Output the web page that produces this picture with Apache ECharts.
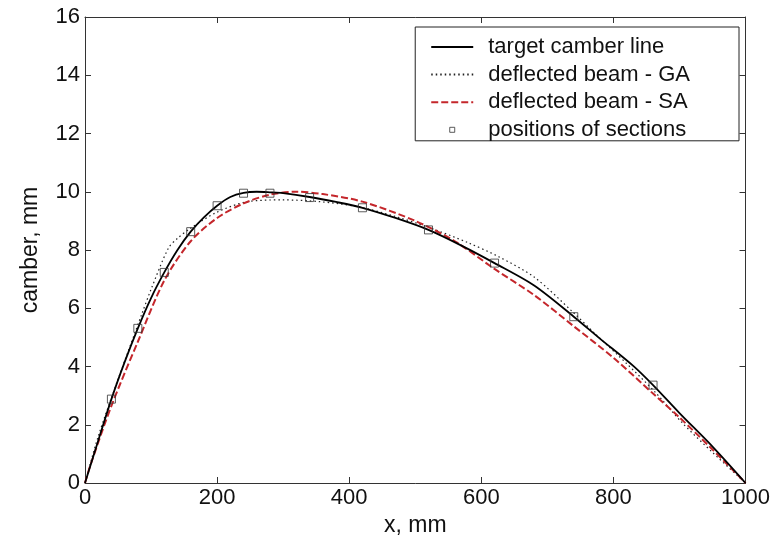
<!DOCTYPE html>
<html><head><meta charset="utf-8">
<script src="https://cdn.jsdelivr.net/npm/echarts@6/dist/echarts.min.js"></script>
<style>html,body{margin:0;padding:0;background:#fff}#c{width:773px;height:547px}</style>
</head><body><div id="c"></div>
<script>
var xTarget = [0, 20, 40, 60, 80, 100, 120, 140, 160, 180, 200, 220, 240, 260, 280, 300, 340, 380, 420, 470, 520, 570, 620, 680, 740, 780, 830, 860, 900, 950, 1000];
var yTarget = [0, 1.45, 2.88, 4.15, 5.31, 6.35, 7.23, 8.0, 8.63, 9.12, 9.52, 9.82, 9.96, 10.0, 9.98, 9.95, 9.82, 9.65, 9.45, 9.1, 8.69, 8.15, 7.55, 6.78, 5.71, 4.95, 4.02, 3.36, 2.4, 1.25, 0];

var xGA = [0, 20, 50, 86, 100, 126, 140, 160, 200, 244, 300, 355, 415, 470, 520, 580, 627, 680, 739, 773, 820, 864, 904, 950, 1000];
var yGA = [0, 1.6, 3.56, 5.8, 6.65, 8.05, 8.4, 8.75, 9.3, 9.65, 9.72, 9.66, 9.48, 9.15, 8.78, 8.25, 7.76, 7.07, 5.86, 5.11, 4.1, 3.1, 2.07, 1.05, 0];

var xSA = [0, 8, 40, 80, 120, 160, 200, 240, 280, 320, 360, 420, 500, 560, 620, 680, 740, 800, 860, 900, 950, 1000];
var ySA = [0, 0.6, 2.65, 4.85, 6.95, 8.3, 9.1, 9.6, 9.9, 10.0, 9.92, 9.66, 9.0, 8.3, 7.35, 6.45, 5.38, 4.3, 3.07, 2.25, 1.15, 0];

var xSections = [40, 80, 120, 160, 200, 240, 280, 340, 420, 520, 620, 740, 860];
var ySections = [2.88, 5.31, 7.23, 8.63, 9.52, 9.95, 9.95, 9.8, 9.45, 8.69, 7.55, 5.71, 3.36];

var xTicks = [0, 200, 400, 600, 800, 1000];
var yTicks = [0, 2, 4, 6, 8, 10, 12, 14, 16];

function pairs(xs, ys) { return xs.map(function (x, i) { return [x, ys[i]]; }); }

var FONT = '"Liberation Sans", Arial, sans-serif';
var chart = echarts.init(document.getElementById('c'));
var axisCommon = {
  axisLine: { show: true, onZero: false, lineStyle: { color: '#333', width: 1 } },
  axisTick: { show: true, inside: true, length: 6, lineStyle: { color: '#333' } },
  splitLine: { show: false }
};
var hideSym = { opacity: 0 };
chart.setOption({
  animation: false,
  backgroundColor: '#fff',
  grid: { left: 85, right: 26, top: 17, bottom: 64, show: false },
  legend: {
    right: 34, top: 27, orient: 'vertical',
    backgroundColor: '#fff', borderColor: '#222', borderWidth: 1,
    padding: [9, 49, 0, 15], itemGap: 5.6, itemWidth: 42, itemHeight: 14,
    textStyle: { fontFamily: FONT, fontSize: 22, lineHeight: 18, color: '#111', padding: [0, 0, 0, 10] },
    data: [
      { name: 'target camber line', itemStyle: hideSym },
      { name: 'deflected beam - GA', itemStyle: hideSym },
      { name: 'deflected beam - SA', itemStyle: hideSym },
      { name: 'positions of sections', icon: 'path://M0,0 M42,0 M42,14 M0,14 M18.5,4.5h5v5h-5z',
        itemStyle: { color: 'rgba(255,255,255,0)', borderColor: '#333', borderWidth: 1 } }
    ]
  },
  xAxis: [
    Object.assign({
      type: 'value', min: 0, max: 1000, interval: 200, position: 'bottom',
      name: 'x, mm', nameLocation: 'middle', nameGap: 31,
      nameTextStyle: { fontFamily: FONT, fontSize: 23, color: '#111' },
      axisLabel: { fontFamily: FONT, fontSize: 22, color: '#111', margin: 4,
        formatter: function (v) { return xTicks.indexOf(v) >= 0 ? String(v) : ''; } }
    }, axisCommon),
    Object.assign({
      type: 'value', min: 0, max: 1000, interval: 200, position: 'top',
      axisLabel: { show: false }
    }, axisCommon)
  ],
  yAxis: [
    Object.assign({
      type: 'value', min: 0, max: 16, interval: 2, position: 'left',
      name: 'camber, mm', nameLocation: 'middle', nameGap: 43,
      nameTextStyle: { fontFamily: FONT, fontSize: 23, color: '#111' },
      axisLabel: { fontFamily: FONT, fontSize: 22, color: '#111', margin: 5,
        formatter: function (v) { return yTicks.indexOf(v) >= 0 ? String(v) : ''; } }
    }, axisCommon),
    Object.assign({
      type: 'value', min: 0, max: 16, interval: 2, position: 'right',
      axisLabel: { show: false }
    }, axisCommon)
  ],
  series: [
    {
      name: 'target camber line', type: 'line', smooth: 0.3, symbol: 'none',
      data: pairs(xTarget, yTarget),
      lineStyle: { color: '#000', width: 1.8 }, itemStyle: { color: '#000' }, z: 3
    },
    {
      name: 'deflected beam - GA', type: 'line', smooth: 0.3, symbol: 'none',
      data: pairs(xGA, yGA),
      lineStyle: { color: '#222', width: 1.2, type: [1.5, 3] }, itemStyle: { color: '#222' }, z: 2
    },
    {
      name: 'deflected beam - SA', type: 'line', smooth: 0.3, symbol: 'none',
      data: pairs(xSA, ySA),
      lineStyle: { color: '#c4262b', width: 2, type: [7, 3] }, itemStyle: { color: '#c4262b' }, z: 2
    },
    {
      name: 'positions of sections', type: 'scatter', symbol: 'rect', symbolSize: 8,
      data: pairs(xSections, ySections),
      itemStyle: { color: 'rgba(255,255,255,0)', borderColor: '#333', borderWidth: 1 }, z: 4
    }
  ]
});
</script></body></html>
